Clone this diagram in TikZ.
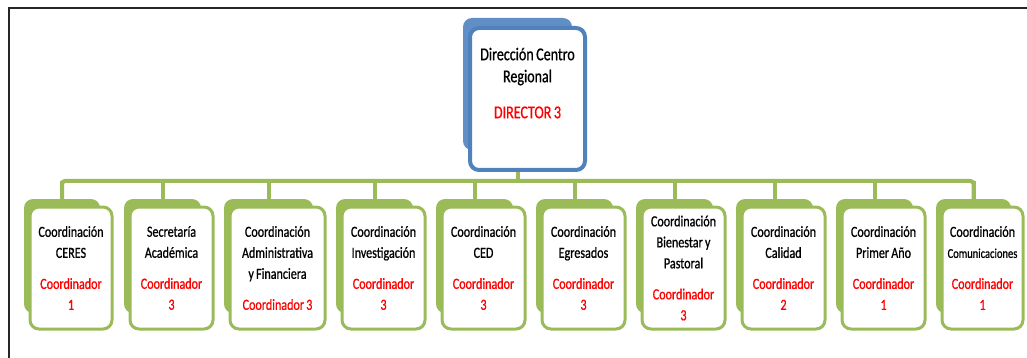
\documentclass[tikz,border=0pt]{standalone}
\usepackage{fontspec}
\setmainfont{Carlito}
\newfontfamily\caja[FakeStretch=0.78, WordSpace=0.8, FakeBold=0.8]{Carlito}

\definecolor{verde}{HTML}{9BBB59}
\definecolor{azul}{HTML}{4F81BD}
\definecolor{rojo}{HTML}{FF0000}

\tikzset{
linea/.style = {verde, line width=4pt, rounded corners=3pt},
tras/.style = {fill=#1, rounded corners=9pt, inner sep=0pt},
frente/.style = {draw=#1, fill=white, line width=3pt, rounded corners=9pt, align=flush center, inner sep=2pt},
}

\begin{document}
\begin{tikzpicture}[x=1pt,y=-1pt]
\useasboundingbox (0,0) rectangle (1027,358);
\draw[line width=1.6pt, black!85] (9,358) |- (1027,8);

% direccion
\node[tras=azul!90, minimum width=109pt, minimum height=132pt] (dirb) at (517.5,84) {};
\node[frente=azul, line width=4pt, minimum width=115pt, minimum height=142pt, text depth=32pt,
	align=center, font=\caja\fontsize{18}{22}\selectfont] (dir) at (527.5,99)
	{Dirección Centro\\Regional\\[14pt]\textcolor{rojo}{DIRECTOR 3}};

\coordinate (barra) at (0,181);

% coordinaciones
\foreach \i/\x/\w/\t/\n in {
	1/71/82/{Coordinación\\CERES}/{Coordinador\\1},
	2/171.5/83/{Secretaría\\Académica}/{Coordinador\\3},
	3/277.5/95/{Coordinación\\Administrativa\\y Financiera}/{Coordinador 3},
	4/383.5/83/{Coordinación\\Investigación}/{Coordinador\\3},
	5/483.5/83/{Coordinación\\CED}/{Coordinador\\3},
	6/583.5/83/{Coordinación\\Egresados}/{Coordinador\\3},
	7/683.5/83/{Coordinación\\Bienestar y\\Pastoral}/{Coordinador\\3},
	8/783.5/83/{Coordinación\\Calidad}/{Coordinador\\2},
	9/883.5/83/{Coordinación\\Primer Año}/{Coordinador\\1},
	10/982.5/81/{Coordinación\\{\fontsize{13.5}{21}\selectfont Comunicaciones}}/{Coordinador\\1}}
{
	\pgfmathsetmacro\tw{\w-6}
	\node[tras=verde, minimum width=\w pt-6pt, minimum height=114pt] (b\i) at (\x-9,256) {};
	\node[frente=verde, minimum width=\w pt, minimum height=122pt, text width=\tw pt,
		font=\caja\fontsize{15.5}{21}\selectfont] (c\i) at (\x,268)
		{\t\\[10pt]\color{rojo}\n};
	\draw[linea] (b\i.north) -- (barra -| b\i.north);
}

% barra
\draw[linea] (b1.north) |- (barra -| b10.north) -- (b10.north);
\draw[linea] (dir.south -| dirb) -- (barra -| dirb);
\end{tikzpicture}
\end{document}
